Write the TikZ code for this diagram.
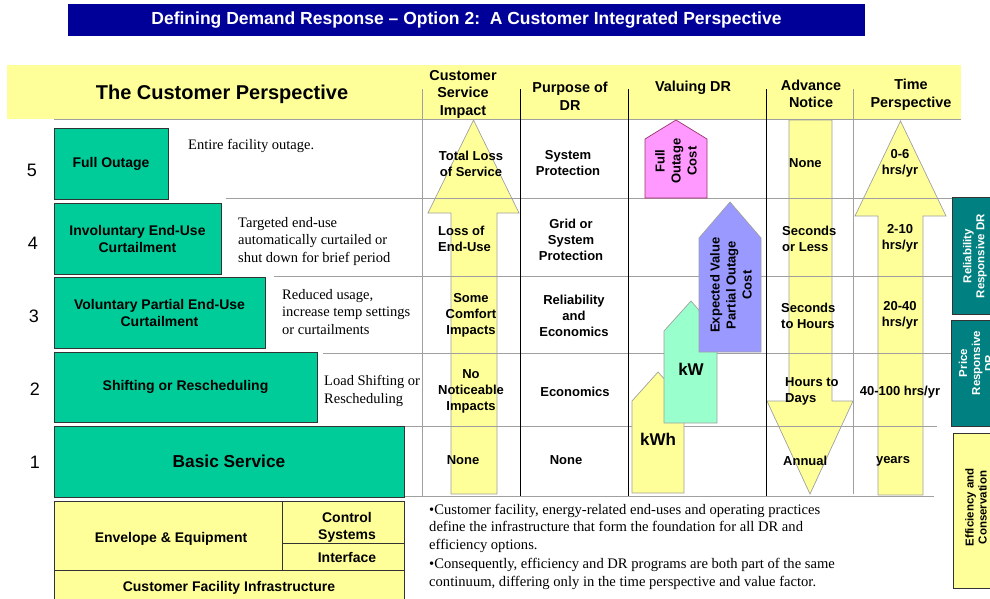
\documentclass[tikz,border=0pt]{standalone}
\usepackage{fontspec}
\setmainfont{Liberation Sans}
\newfontfamily\timesfont{Liberation Serif}

\definecolor{titleblue}{HTML}{000099}
\definecolor{paleyellow}{HTML}{FFFF99}
\definecolor{levelgreen}{HTML}{00CC99}
\definecolor{tabteal}{HTML}{008080}
\definecolor{outagepink}{HTML}{FF99FF}
\definecolor{outagerim}{HTML}{993366}
\definecolor{valueblue}{HTML}{9999FF}
\definecolor{kwgreen}{HTML}{99FFCC}
\definecolor{rulegray}{HTML}{A0A0A0}

\tikzset{
  level/.style={draw=black!80, fill=levelgreen, line width=0.9pt, inner sep=0pt,
    font=\bfseries\fontsize{14}{17}\selectfont, align=center},
  levelnum/.style={font=\fontsize{18}{20}\selectfont, inner sep=0pt},
  note/.style={font=\timesfont\fontsize{14.5}{17.5}\selectfont, align=left, anchor=west, inner sep=0pt},
  bullet/.style={font=\timesfont\fontsize{14.6}{17.5}\selectfont, align=left, anchor=west, inner sep=0pt},
  cell/.style={font=\bfseries\fontsize{13}{16}\selectfont, align=center, inner sep=0pt},
  colhead/.style={font=\bfseries\fontsize{14.4}{17.5}\selectfont, align=center, inner sep=0pt},
  rowline/.style={draw=rulegray, line width=0.8pt},
  colline/.style={draw=black, line width=0.8pt},
  yarrow/.style={fill=paleyellow, draw=rulegray, line width=0.7pt},
  valarrow/.style={draw=rulegray, line width=0.7pt},
  tabbox/.style={draw=black!80, line width=0.8pt},
  tabtext/.style={rotate=90, font=\bfseries\fontsize{11.5}{13}\selectfont, align=center, inner sep=0pt},
  infra/.style={font=\bfseries\fontsize{14}{17}\selectfont, align=center, inner sep=0pt}
}

\begin{document}
\begin{tikzpicture}[x=1pt,y=-1pt]
  \useasboundingbox (0,0) rectangle (990,598);
  \clip (0,0) rectangle (990,598);

  % title bar
  \fill[titleblue] (68,4) rectangle (865,36);
  \node[text=white, font=\bfseries\fontsize{17.5}{20}\selectfont] (title) at (466.5,20)
    {Defining Demand Response – Option 2:\ \ A Customer Integrated Perspective};

  % header band
  \fill[paleyellow] (7,65) rectangle (961,119);
  \node[font=\bfseries\fontsize{20}{24}\selectfont] (custpersp) at (222,94) {The Customer Perspective};
  \node[colhead] (hImpact) at (463,94) {Customer\\Service\\Impact};
  \node[colhead] (hPurpose) at (570,96.5) {Purpose of\\DR};
  \node[colhead] (hValue) at (693,88) {Valuing DR};
  \node[colhead] (hNotice) at (811,94) {Advance\\Notice};
  \node[colhead] (hTime) at (911,95) {Time\\Perspective};

  % big yellow arrows
  \draw[yarrow] (451,494) -- (451,213) -- (428,213) -- (473.5,120) -- (519,213) -- (497,213) -- (497,494) -- cycle;   % impact
  \draw[yarrow] (789,120) -- (789,401) -- (767,401) -- (810,494) -- (853,401) -- (832,401) -- (832,120) -- cycle;     % notice
  \draw[yarrow] (878,495) -- (878,216) -- (855,216) -- (900.5,121) -- (946,216) -- (923,216) -- (923,495) -- cycle;   % time

  % table rules
  \draw[rowline] (54,119) -- (961,119);
  \draw[rowline] (226,198.5) -- (952,198.5);
  \draw[rowline] (274,276.5) -- (952,276.5);
  \draw[rowline] (323,353) -- (952,353);
  \draw[rowline] (404,426) -- (937,426);
  \draw[rowline] (404,496) -- (934,496);
  \draw[rowline] (422,89) -- (422,497);
  \draw[colline] (520,89) -- (520,496);
  \draw[colline] (628,89) -- (628,496);
  \draw[colline] (766,89) -- (766,496);
  \draw[rowline] (853,89) -- (853,494);

  % valuing DR arrows
  \draw[valarrow, fill=paleyellow] (632,493) -- (632,401) -- (658,372) -- (684,401) -- (684,493) -- cycle;
  \draw[valarrow, fill=kwgreen] (664,423) -- (664,331) -- (691,301) -- (717,331) -- (717,423) -- cycle;
  \draw[valarrow, fill=valueblue] (699,352) -- (699,238) -- (730,202) -- (761,238) -- (761,352) -- cycle;
  \draw[draw=outagerim, line width=0.7pt, fill=outagepink] (645,198) -- (645,139) -- (676,120) -- (707,139) -- (707,198) -- cycle;
  \node[cell, rotate=90] (fullcost) at (676,161) {Full\\Outage\\Cost};
  \node[cell, rotate=90] (partcost) at (731,285) {Expected Value\\Partial Outage\\Cost};
  \node[font=\bfseries\fontsize{17}{20}\selectfont] (kw) at (691,369) {kW};
  \node[font=\bfseries\fontsize{17}{20}\selectfont] (kwh) at (658,439) {kWh};

  % levels
  \node[level, minimum width=114pt, minimum height=71pt] (full) at (111,163.5) {Full Outage};
  \node[level, minimum width=167pt, minimum height=71pt] (invol) at (137.5,238.5) {Involuntary End-Use\\Curtailment};
  \node[level, minimum width=211pt, minimum height=71pt] (volun) at (159.5,312.5) {Voluntary Partial End-Use\\Curtailment};
  \node[level, minimum width=263pt, minimum height=70pt] (shift) at (185.5,387) {Shifting or Rescheduling};
  \node[level, minimum width=350pt, minimum height=71pt, font=\bfseries\fontsize{17.3}{20}\selectfont] (basic) at (229,461.5) {Basic Service};

  \node[levelnum] (n5) at (32,170) {5};
  \node[levelnum] (n4) at (33,243) {4};
  \node[levelnum] (n3) at (34,316) {3};
  \node[levelnum] (n2) at (35,389) {2};
  \node[levelnum] (n1) at (35,462) {1};

  \node[note] (d5) at (188,146) {Entire facility outage.};
  \node[note] (d4) at (238,241.5) {Targeted end-use\\automatically curtailed or\\shut down for brief period};
  \node[note] (d3) at (282,312) {Reduced usage,\\increase temp settings\\or curtailments};
  \node[note] (d2) at (324,391) {Load Shifting or\\Rescheduling};

  % customer service impact
  \node[cell] (imp5) at (471,163.5) {Total Loss\\of Service};
  \node[cell, align=left, anchor=west] (imp4) at (438,238.5) {Loss of\\End-Use};
  \node[cell] (imp3) at (471,315.5) {Some\\Comfort\\Impacts};
  \node[cell] (imp2) at (471,391.5) {No\\Noticeable\\Impacts};
  \node[cell] (imp1) at (463,460.5) {None};

  % purpose of DR
  \node[cell] (pur5) at (568,163.5) {System\\Protection};
  \node[cell] (pur4) at (571,239.5) {Grid or\\System\\Protection};
  \node[cell] (pur3) at (574,315.5) {Reliability\\and\\Economics};
  \node[cell] (pur2) at (575,391.5) {Economics};
  \node[cell] (pur1) at (566,460.5) {None};

  % advance notice
  \node[cell, anchor=west] (not5) at (789,163.5) {None};
  \node[cell, align=left, anchor=west] (not4) at (782,238.5) {Seconds\\or Less};
  \node[cell, align=left, anchor=west] (not3) at (781,315.5) {Seconds\\to Hours};
  \node[cell, align=left, anchor=west] (not2) at (785,391.5) {Hours to\\Days};
  \node[cell, anchor=west] (not1) at (783,461) {Annual};

  % time perspective
  \node[cell] (tim5) at (900,163.5) {0-6\\hrs/yr};
  \node[cell] (tim4) at (900,238.5) {2-10\\hrs/yr};
  \node[cell] (tim3) at (900,315.5) {20-40\\hrs/yr};
  \node[cell] (tim2) at (900,392) {40-100 hrs/yr};
  \node[cell] (tim1) at (893,461) {years};

  % side tabs
  \draw[tabbox, fill=tabteal] (952,197) rectangle (1000,314);
  \draw[tabbox, fill=tabteal] (951,320) rectangle (1000,426);
  \draw[tabbox, fill=paleyellow] (953,433) rectangle (1000,588);
  \node[tabtext, text=white] (relDR) at (975,256) {Reliability\\Responsive DR};
  \node[tabtext, text=white] (priceDR) at (976,363) {Price\\Responsive\\DR};
  \node[tabtext] (effcons) at (976,507.5) {Efficiency and\\Conservation};

  % infrastructure base
  \fill[paleyellow] (54,501) rectangle (404,605);
  \draw[line width=0.9pt, draw=black!80] (54,605) -- (54,501) -- (404,501) -- (404,605);
  \draw[line width=0.9pt, draw=black!80] (282,501) -- (282,570);
  \draw[line width=0.9pt, draw=black!80] (282,543) -- (404,543);
  \draw[line width=0.9pt, draw=black!80] (54,570) -- (404,570);
  \node[infra] (envelope) at (171,539) {Envelope \& Equipment};
  \node[infra] (control) at (347,527) {Control\\Systems};
  \node[infra] (iface) at (347,557) {Interface};
  \node[infra] (infra) at (229,588) {Customer Facility Infrastructure};

  % bullets
  \node[bullet] (bul1) at (429,528)
    {•Customer facility, energy-related end-uses and operating practices\\define the infrastructure that form the foundation for all DR and\\efficiency options.};
  \node[bullet] (bul2) at (429,574)
    {•Consequently, efficiency and DR programs are both part of the same\\continuum, differing only in the time perspective and value factor.};
\end{tikzpicture}
\end{document}
